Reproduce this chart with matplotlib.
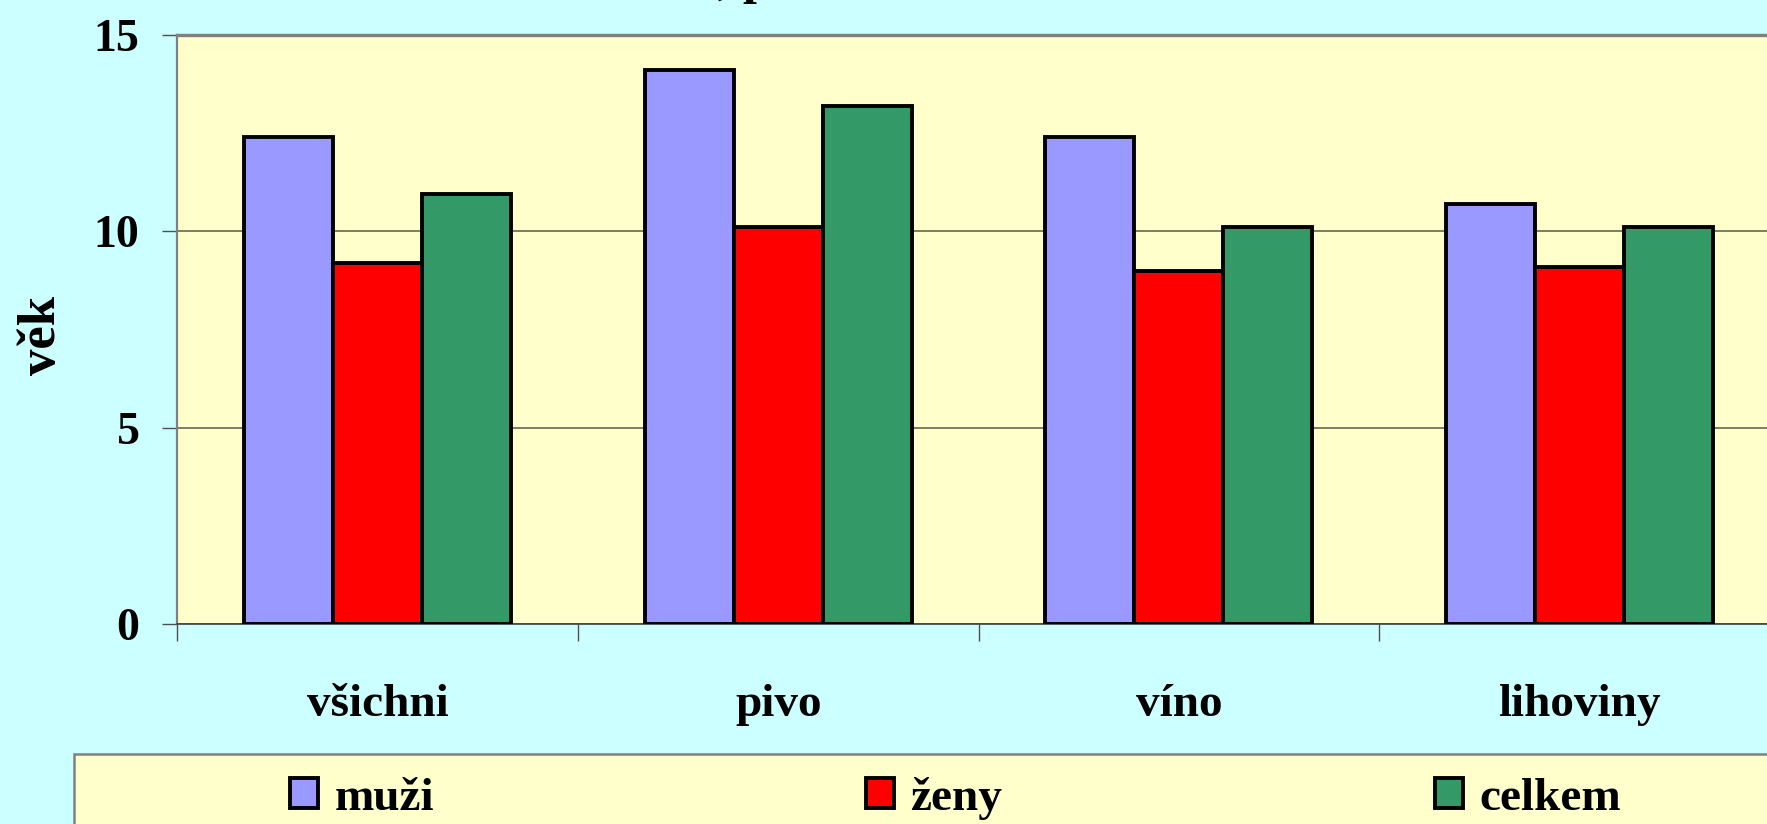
import matplotlib
matplotlib.use("Agg")
import matplotlib.pyplot as plt
from matplotlib.patches import Rectangle
import numpy as np

# data
categories = ["všichni", "pivo", "víno", "lihoviny"]
series = ["muži", "ženy", "celkem"]
muzi   = [12.4, 14.1, 12.4, 10.7]
zeny   = [9.2, 10.1, 9.0, 9.1]
celkem = [10.95, 13.2, 10.1, 10.1]
colors = ["#9999FF", "#FF0000", "#339966"]
yticks = [0, 5, 10, 15]

plt.rcParams["font.family"] = ["Liberation Serif", "DejaVu Serif"]
plt.rcParams["font.weight"] = "bold"

W, H = 1767, 824
fig = plt.figure(figsize=(W / 100, H / 100), dpi=100, facecolor="#CCFFFF")

# plot area (runs off the right edge like the original)
ax = fig.add_axes([177 / W, 1 - 624 / H, 1603 / W, 589 / H])
ax.set_facecolor("#FFFFCC")

x = np.arange(len(categories))
w = 1 / 4.5   # Excel gap width 150%
for j, (vals, name) in enumerate(zip([muzi, zeny, celkem], series)):
    ax.bar(x + (j - 1) * w, vals, width=w, color=colors[j],
           edgecolor="black", linewidth=2.8, label=name, zorder=3)

ax.set_xlim(-0.5, 3.5)
ax.set_ylim(0, 15)

ax.set_yticks(yticks)
ax.set_yticklabels([str(v) for v in yticks], fontsize=33, fontweight="bold")
ax.tick_params(axis="y", length=11, width=1, color="#505050", pad=16)
ax.yaxis.grid(True, color="#5a5a4a", linewidth=1.1, zorder=0)
ax.set_axisbelow(True)

ax.set_xticks(x)
ax.set_xticklabels(categories, fontsize=34, fontweight="bold")
ax.tick_params(axis="x", which="major", length=0, pad=43)
ax.set_xticks(np.arange(-0.5, 4, 1), minor=True)
ax.tick_params(axis="x", which="minor", length=12, width=1, color="#505050")

ax.set_ylabel("věk", fontsize=38, fontweight="bold")
ax.yaxis.set_label_coords(-0.069, 0.49)

ax.spines["top"].set_color("#808080")
ax.spines["top"].set_linewidth(2.4)
ax.spines["left"].set_color("#808080")
ax.spines["left"].set_linewidth(1.6)
ax.spines["bottom"].set_color("#404040")
ax.spines["bottom"].set_linewidth(1.2)
ax.spines["right"].set_visible(False)

# only the bottom of the title is visible in the original
fig.text(718 / W, 1 + 7 / H, ", p", fontsize=36, fontweight="bold",
         ha="left", va="baseline")

# legend box, cut by the figure edges
fig.patches.append(Rectangle((74 / W, -0.05), 1.0, (824 - 754) / H + 0.05,
                             transform=fig.transFigure, facecolor="#FFFFCC",
                             edgecolor="#808080", linewidth=1.8, zorder=0))
fig.legend(loc="center left", bbox_to_anchor=(290 / W, (824 - 798) / H),
           ncol=3, frameon=False, borderpad=0, borderaxespad=0,
           handlelength=0.6, handleheight=0.6, handletextpad=0.34,
           columnspacing=9.15, prop={"weight": "bold", "size": 34})

fig.savefig("out.png", dpi=100, facecolor=fig.get_facecolor())
